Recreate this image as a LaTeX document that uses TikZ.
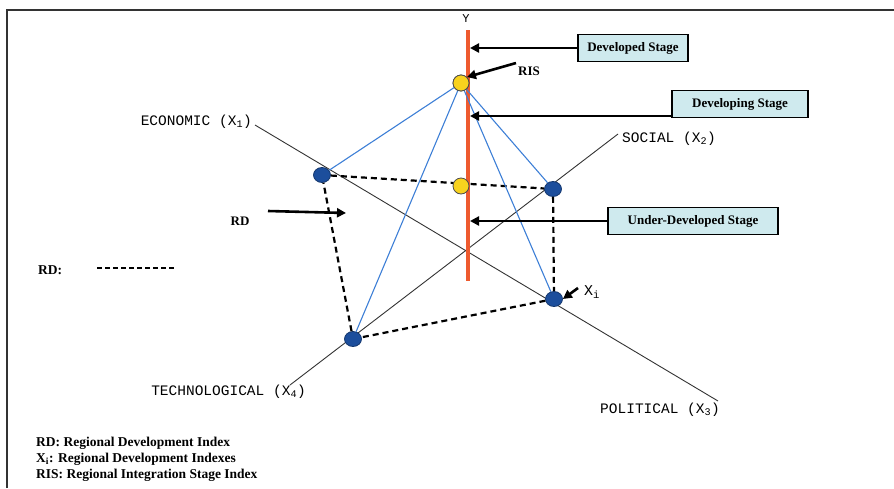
\documentclass[tikz,border=0pt]{standalone}
\usepackage{fontspec}
\setmainfont{Liberation Serif}
\newfontfamily\axisfont{Liberation Mono}
\usetikzlibrary{arrows.meta,shapes.geometric}
\definecolor{stagefill}{HTML}{CFEAEE}
\definecolor{yred}{HTML}{EE5A2E}
\definecolor{linkblue}{HTML}{3D7FD6}
\definecolor{dotblue}{HTML}{1C4E9C}
\definecolor{dotyellow}{HTML}{F8D21E}
\tikzset{
  axis/.style={draw=black!80, line width=0.9pt},
  axislabel/.style={font=\axisfont\fontsize{14.5}{16}\selectfont, inner sep=0pt},
  stagebox/.style={draw=black, line width=1.4pt, fill=stagefill, minimum height=27pt,
    font=\bfseries\fontsize{13}{15}\selectfont, inner sep=2pt},
  bluedot/.style={ellipse, fill=dotblue, draw=dotblue!70!black, line width=0.8pt,
    minimum width=17pt, minimum height=15pt, inner sep=0pt},
  yellowdot/.style={circle, fill=dotyellow, draw=black!70, line width=0.8pt,
    minimum size=16pt, inner sep=0pt},
  bluelink/.style={draw=linkblue, line width=1.1pt},
  rdlink/.style={draw=black, line width=2.2pt, dash pattern=on 6pt off 4pt},
  pointer/.style={draw=black, line width=2.6pt, -{Triangle[length=9pt,width=9pt]}},
  smalllabel/.style={font=\bfseries\fontsize{13}{15}\selectfont, inner sep=0pt},
  legendtext/.style={font=\bfseries\fontsize{13.5}{15}\selectfont, inner sep=0pt, anchor=west}
}
\begin{document}
\begin{tikzpicture}[x=1pt, y=-1pt]
  \useasboundingbox (0,0) rectangle (894,488);
  % frame edges
  \draw[draw=black!80, line width=2pt] (7,488) -- (7,10) -- (894,10);

  % criteria axes
  \coordinate (econEnd) at (255,125);
  \coordinate (polEnd) at (718,401);
  \coordinate (socEnd) at (618,134);
  \coordinate (techEnd) at (290,385);
  \draw[axis] (econEnd) -- (polEnd);
  \draw[axis] (socEnd) -- (techEnd);
  \node[axislabel, anchor=east] (econ) at (252,122) {ECONOMIC (X\textsubscript{1})};
  \node[axislabel, anchor=west] (soc) at (622,139) {SOCIAL (X\textsubscript{2})};
  \node[axislabel, anchor=east] (tech) at (306,392) {TECHNOLOGICAL (X\textsubscript{4})};
  \node[axislabel, anchor=west] (pol) at (600,410) {POLITICAL (X\textsubscript{3})};

  % vertical stage axis
  \coordinate (ytop) at (468,30);
  \coordinate (ybot) at (468,281);
  \draw[draw=yred, line width=4pt] (ytop) -- (ybot);
  \node[font=\axisfont\fontsize{12}{13}\selectfont, inner sep=0pt] (ylab) at (466,19) {Y};

  % points
  \node[bluedot] (x1) at (322,175) {};
  \node[bluedot] (x2) at (553,189) {};
  \node[bluedot] (x3) at (554,299) {};
  \node[bluedot] (x4) at (353,339) {};

  % regional development polygon
  \draw[rdlink] (x1) -- (x2) -- (x3) -- (x4) -- (x1);
  \node[yellowdot] (rdc) at (461,186) {};

  % links to the integration stage index
  \node[yellowdot] (ris) at (461,83) {};
  \foreach \p in {x1,x2,x3,x4} \draw[bluelink] (ris) -- (\p);
  \node[yellowdot] at (461,83) {};

  % stage boxes
  \node[stagebox, minimum width=110pt] (dev) at (633,48) {Developed Stage};
  \node[stagebox, minimum width=136pt] (deving) at (740,104) {Developing Stage};
  \node[stagebox, minimum width=170pt] (under) at (693,221) {Under-Developed Stage};
  \coordinate (sdev) at (470,48);
  \coordinate (sdeving) at (470,116);
  \coordinate (sunder) at (470,221);
  \draw[pointer] (dev.west) -- (sdev);
  \draw[pointer] (deving.south west |- sdeving) -- (sdeving);
  \draw[pointer] (under.west) -- (sunder);

  % pointer labels
  \node[smalllabel, anchor=west] (rislab) at (518,71) {RIS};
  \draw[pointer] (516,63) -- (ris.north east);
  \node[smalllabel] (rdlab) at (240,221) {RD};
  \coordinate (rdtip) at (346,213);
  \draw[pointer] (268,211) -- (rdtip);
  \node[font=\axisfont\fontsize{15}{16}\selectfont, inner sep=0pt, anchor=west] (xilab) at (584,292) {X\textsubscript{i}};
  \draw[pointer] (578,288) -- (x3.east);

  % legend
  \node[legendtext] (lgrd) at (38,270) {RD:};
  \draw[draw=black, line width=1.8pt, dash pattern=on 5pt off 3pt] (97,268) -- (175,268);
  \node[legendtext] (l1) at (36,443) {RD: Regional Development Index};
  \node[legendtext] (l2) at (36,459) {X\textsubscript{i}: Regional Development Indexes};
  \node[legendtext] (l3) at (36,475) {RIS: Regional Integration Stage Index};
\end{tikzpicture}
\end{document}
